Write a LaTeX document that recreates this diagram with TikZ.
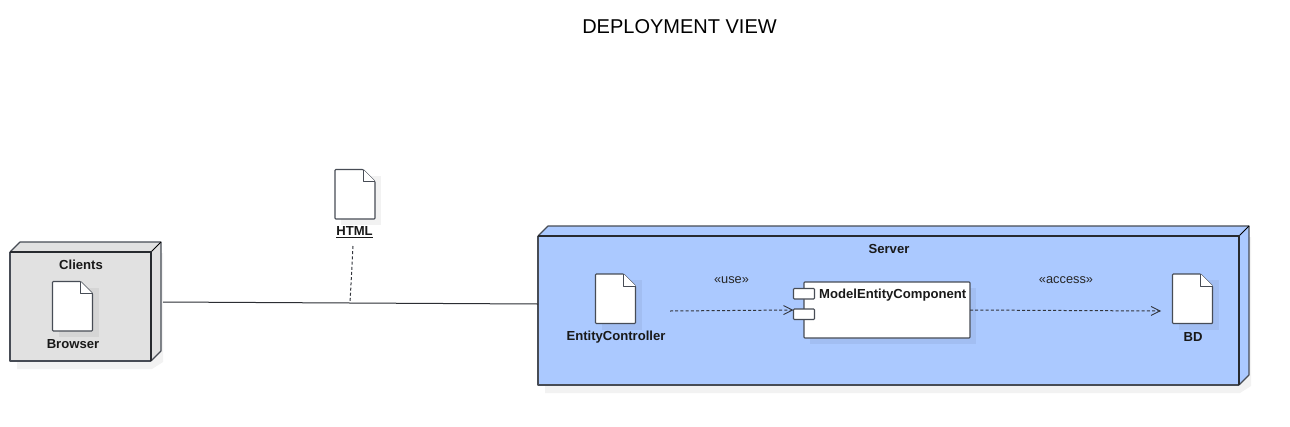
\documentclass[tikz,border=0pt]{standalone}
\usepackage{fontspec}
\setmainfont{Liberation Sans}
\usetikzlibrary{arrows.meta}
\definecolor{blueface}{HTML}{ABC9FF}
\definecolor{greyface}{HTML}{E1E1E1}
\definecolor{edge}{HTML}{474C55}
\tikzset{
  outline/.style={draw=edge,line width=1.1pt,line join=round},
  boxnode/.style={inner sep=0pt,outer sep=0pt,anchor=north west},
  label/.style={font=\fontsize{13.1}{15}\selectfont\bfseries,inner sep=0pt,text=black!90},
  stereo/.style={font=\fontsize{12.8}{15}\selectfont,inner sep=0pt,text=black!85},
  softshadow/.style={fill=black,fill opacity=0.05,draw=none},
  dep/.style={draw=edge!70!black,line width=1pt,dash pattern=on 3pt off 2.2pt},
  openhead/.style={-{Straight Barb[length=9pt,width=9pt,line width=0.9pt]}},
}
% #1 name, #2 x, #3 y (top-left)
\newcommand{\docshape}[3]{%
  \fill[softshadow] (#2+6,#3+6) rectangle +(40,49.5);
  \node[boxnode,minimum width=40pt,minimum height=49.5pt] (#1) at (#2,#3) {};
  \draw[outline,fill=white,rounded corners=0.8pt] (#1.north west) -- ([xshift=-12pt]#1.north east) -- ([yshift=-12pt]#1.north east) -- (#1.south east) -- (#1.south west) -- cycle;
  \draw[outline,fill=white,line width=0.9pt] ([xshift=-12pt]#1.north east) -- ([xshift=-12pt,yshift=-12pt]#1.north east) -- ([yshift=-12pt]#1.north east);
}
% #1 name, #2 x, #3 y, #4 w, #5 h, #6 fill
\newcommand{\cubeshape}[6]{%
  \fill[softshadow] (#2+21,#3+1) -- (#2+#4+12,#3+1) -- (#2+#4+12,#3+#5+1) -- (#2+#4+1,#3+#5+8) -- (#2+7,#3+#5+8) -- (#2+7,#3+#5) -- (#2+21,#3+#5) -- cycle;
  \node[boxnode,minimum width=#4pt,minimum height=#5pt,fill=#6] (#1) at (#2,#3) {};
  \draw[outline,fill=#6] (#1.north west) -- ++(10,-10) -- ([xshift=10pt,yshift=10pt]#1.north east) -- ([xshift=10pt,yshift=10pt]#1.south east) -- (#1.south east) -- (#1.north east) -- cycle;
  \draw[outline,line width=0.9pt,draw=black] (#1.north east) -- ++(10,-10);
  \draw[outline] (#1.south east) -- (#1.south west) -- (#1.north west);
  \draw[draw=edge!55!black,line width=1.7pt] (#1.north west) -- (#1.north east) -- (#1.south east);
}
\begin{document}
\begin{tikzpicture}[x=1pt,y=-1pt]
\useasboundingbox (0,0) rectangle (1290,426);
\fill[white] (0,0) rectangle (1290,426);
\node[inner sep=0pt,font=\fontsize{20}{24}\selectfont,text=black] (title) at (679.5,27) {DEPLOYMENT VIEW};

% Clients
\cubeshape{clients}{10}{252}{141}{109}{greyface}
\node[label] (clientsname) at (81,265) {Clients};
\docshape{browser}{52.5}{281.5}
\node[label] (browsername) at (73,344) {Browser};

% HTML artifact
\docshape{html}{335}{169.5}
\node[label] (htmlname) at (354.5,232) {\underline{HTML}};

% Server
\cubeshape{server}{538}{236}{701}{149}{blueface}
\node[label] (servername) at (889,249) {Server};
\docshape{controller}{595.5}{274}
\node[label] (controllername) at (616,337) {EntityController};
\docshape{bd}{1172.5}{274}
\node[label] (bdname) at (1193,337) {BD};

% Component
\fill[softshadow] (810,288) rectangle (976,344);
\node[boxnode,minimum width=166pt,minimum height=56pt,fill=white,draw=edge,line width=1.1pt,rounded corners=0.8pt] (component) at (804,282) {};
\node[boxnode,minimum width=21pt,minimum height=10.5pt,fill=white,draw=edge,line width=1.1pt,rounded corners=0.8pt] (portA) at (793.5,288.5) {};
\node[boxnode,minimum width=21pt,minimum height=10.5pt,fill=white,draw=edge,line width=1.1pt,rounded corners=0.8pt] (portB) at (793.5,309) {};
\node[label,anchor=west] (componentname) at (819,295.5) {ModelEntityComponent};

% Stereotype labels
\node[stereo] (uselabel) at (731.5,280.5) {«use»};
\node[stereo] (accesslabel) at (1066,280.5) {«access»};

% Free connector ends
\coordinate (linkstart) at (163,302);
\coordinate (linkend) at (538,304);
\coordinate (notetop) at (353,246);
\coordinate (notefoot) at (350,303);
\coordinate (usestart) at (670,311);
\coordinate (accessend) at (1161,311);

% Connectors
\draw[draw=edge!60!black,line width=1pt] (linkstart) -- (linkend);
\draw[dep] (notetop) -- (notefoot);
\draw[dep,openhead] (usestart) -- ([yshift=-1pt]portB.north west);
\draw[dep,openhead] (component.east |- 0,310) -- (accessend);
\end{tikzpicture}
\end{document}
